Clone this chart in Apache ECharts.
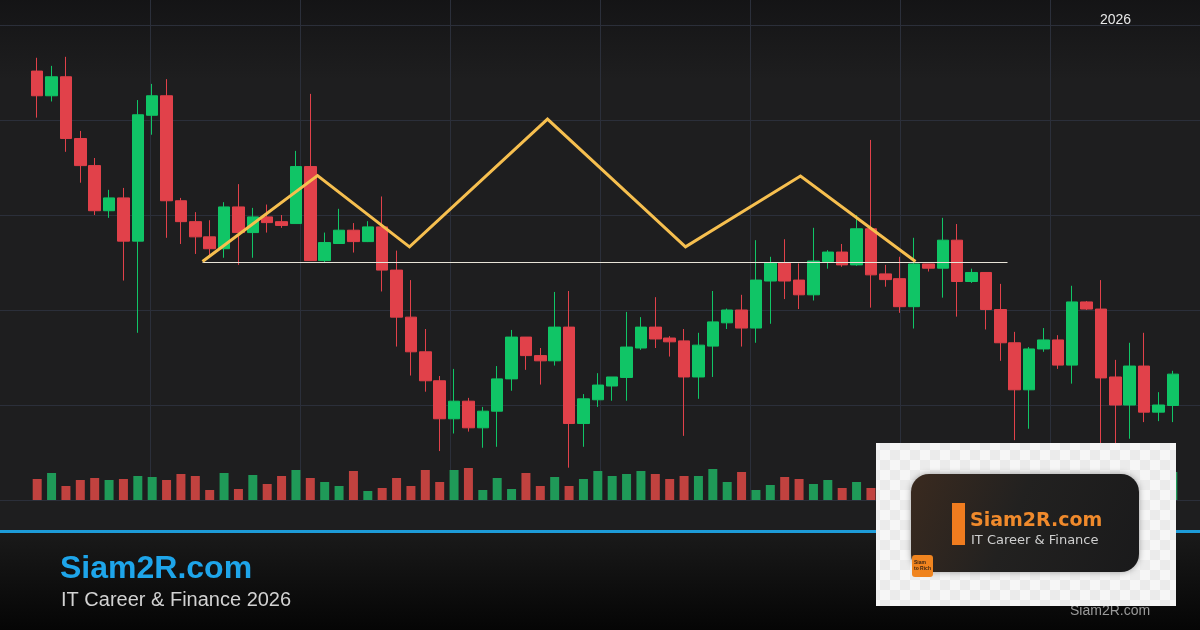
<!DOCTYPE html>
<html>
<head>
<meta charset="utf-8">
<script src="https://cdn.jsdelivr.net/npm/echarts@6/dist/echarts.min.js"></script>
<style>
html,body{margin:0;padding:0;background:#1e1e1f;}
#c{width:1200px;height:630px;}
</style>
</head>
<body>
<div id="c"></div>
<script>
// ---- data ----
const opens  = [90.3,85.1,89.1,76.1,70.4,60.9,63.6,54.5,81.0,85.1, 63.0,58.6,55.4,52.9,61.7,56.3,59.6,58.6,58.2,70.2,
                50.4,54.0,56.8,54.4,57.5,48.4,38.5,31.2,25.1,17.1, 20.8,15.2,18.7,25.5,34.3,30.4,29.3,36.4,16.1,21.1,
                24.0,25.8,32.0,36.4,34.1,33.5,25.9,32.4,37.3,40.0, 36.2,46.1,50.0,46.3,43.2,50.2,52.2,49.5,57.1,47.6,
                46.6,40.7,49.7,48.8,54.7,46.0,47.9,40.1,33.1,23.2, 31.8,33.7,28.4,41.7,40.2,25.9,20.0,28.2,18.5,19.9];
const closes = [85.1,89.1,76.1,70.4,60.9,63.6,54.5,81.1,85.1,63.0, 58.6,55.4,52.9,61.7,56.3,59.6,58.4,57.8,70.2,50.4,
                54.2,56.8,54.4,57.5,48.4,38.5,31.2,25.1,17.1,20.8, 15.2,18.7,25.5,34.3,30.4,29.3,36.4,16.1,21.3,24.2,
                25.9,32.2,36.4,33.9,33.3,25.9,32.6,37.5,40.0,36.2, 46.3,50.0,46.1,43.2,50.3,52.2,49.5,57.1,47.4,46.4,
                40.7,49.7,48.8,54.7,46.0,47.9,40.1,33.1,23.2,31.8, 33.7,28.4,41.7,40.2,25.7,20.0,28.2,18.5,20.0,26.5];
const lows   = [80.5,83.9,73.3,66.8,60.0,59.4,46.2,35.2,76.9,55.2, 53.9,51.8,51.4,51.0,49.5,51.0,56.3,57.3,58.2,50.4,
                50.1,53.9,52.1,54.3,43.9,32.3,26.2,22.8,10.3,14.0, 14.4,11.0,11.2,23.0,27.4,24.3,28.3,6.8,11.2,19.6,
                20.9,20.9,31.6,32.0,30.2,13.5,21.3,25.9,36.0,32.3, 33.1,37.1,42.3,40.2,42.0,48.7,49.1,49.3,40.5,44.9,
                39.4,36.1,48.1,42.6,38.6,45.7,35.9,29.3,12.6,15.0, 31.2,27.6,24.5,40.0,9.0,10.0,12.9,16.4,16.6,16.4];
const highs  = [93.1,91.4,93.3,77.7,72.0,65.3,65.7,84.2,87.6,88.6, 63.6,60.6,58.9,62.7,66.5,61.5,62.2,60.0,73.5,85.5,
                56.3,61.3,58.3,58.7,63.9,52.5,46.3,36.0,26.1,27.6, 21.5,19.6,28.2,35.8,34.3,32.0,43.8,44.0,22.3,26.7,
                25.9,39.6,38.5,42.7,34.5,36.0,35.2,44.0,40.3,43.2, 54.7,51.2,54.9,49.8,57.3,52.6,53.9,60.0,75.8,49.5,
                51.2,55.2,49.7,59.4,58.1,48.7,47.9,45.5,35.4,32.2, 36.2,34.7,45.1,41.9,46.3,29.5,33.1,35.2,22.7,27.2];
const volumes = [21,27,14,20,22,20,21,24,23,20, 26,24,10,27,11,25,16,24,30,22,
                 18,14,29,9,12,22,14,30,18,30, 32,10,22,11,27,14,23,14,21,29,
                 24,26,29,26,21,24,24,31,18,28, 10,15,23,21,16,20,12,18,12,20,
                 24,18,12,26,22,14,20,24,30,26, 16,18,28,12,30,26,22,24,16,28];
// pattern drawing: [candle index, price]
const zigzag   = [[11.5,50.2],[19.5,68.3],[25.9,53.3],[35.5,80.2],[45.1,53.3],[53.1,68.2],[61.1,50.2]];
const neckline = [[11.5,50.0],[67.5,50.0]];
const categories = opens.map((_, i) => 'D' + (i + 1));

// ---- styles ----
const UP = '#10c566', DOWN = '#e1414a';
const VOL_UP = '#1f9a58', VOL_DOWN = '#c1423f';

const ohlc = opens.map((o, i) => [o, closes[i], lows[i], highs[i]]);
const volData = volumes.map((v, i) => ({
  value: v,
  itemStyle: { color: closes[i] >= opens[i] ? VOL_UP : VOL_DOWN }
}));

// checkerboard pattern for logo card
const pc = document.createElement('canvas');
pc.width = 20; pc.height = 20;
const pctx = pc.getContext('2d');
pctx.fillStyle = '#f6f6f6'; pctx.fillRect(0,0,20,20);
pctx.fillStyle = '#ebebeb'; pctx.fillRect(0,0,10,10); pctx.fillRect(10,10,10,10);

const gridLine = { show: true, lineStyle: { color: '#2b2f3a', width: 1 } };

const chart = echarts.init(document.getElementById('c'));
chart.setOption({
  animation: false,
  backgroundColor: '#1e1e1f',
  grid: [
    { left: 0, right: 0, top: 0, height: 500 },
    { left: 30, right: 20, top: 25, height: 475 }
  ],
  xAxis: [
    { type: 'value', gridIndex: 0, min: 0, max: 1200, interval: 150,
      axisLine: { show: false }, axisTick: { show: false }, axisLabel: { show: false },
      splitLine: Object.assign({ showMinLine: false, showMaxLine: false }, gridLine) },
    { type: 'category', gridIndex: 1, data: categories, boundaryGap: true, show: false },
    { type: 'value', gridIndex: 1, min: -0.5, max: 79.5, show: false, splitLine: { show: false } }
  ],
  yAxis: [
    { type: 'value', gridIndex: 0, min: 0, max: 500, interval: 95,
      axisLine: { show: false }, axisTick: { show: false }, axisLabel: { show: false },
      splitLine: Object.assign({ showMinLine: true, showMaxLine: false }, gridLine) },
    { type: 'value', gridIndex: 1, min: 0, max: 100, show: false, splitLine: { show: false } },
    { type: 'value', gridIndex: 1, min: 0, max: 475, show: false, splitLine: { show: false } }
  ],
  series: [
    { type: 'bar', xAxisIndex: 1, yAxisIndex: 2, data: volData, barWidth: 9, z: 2 },
    { type: 'candlestick', xAxisIndex: 1, yAxisIndex: 1, data: ohlc, barWidth: 12, z: 3,
      itemStyle: { color: UP, color0: DOWN, borderColor: UP, borderColor0: DOWN, borderWidth: 1 } },
    { type: 'line', xAxisIndex: 2, yAxisIndex: 1, data: neckline, symbol: 'none', z: 4,
      lineStyle: { color: '#e8e4d8', width: 1.2 } },
    { type: 'line', xAxisIndex: 2, yAxisIndex: 1, data: zigzag, symbol: 'none', z: 5,
      lineStyle: { color: '#f6bf4f', width: 3, join: 'miter' } }
  ],
  graphic: [
    { type: 'rect', z: -10, silent: true, shape: { x: 0, y: 0, width: 1200, height: 80 },
      style: { fill: new echarts.graphic.LinearGradient(0,0,0,1,[{offset:0,color:'rgba(12,12,14,0.55)'},{offset:1,color:'rgba(12,12,14,0)'}]) } },
    { type: 'rect', z: -10, silent: true, shape: { x: 0, y: 532, width: 1200, height: 98 },
      style: { fill: new echarts.graphic.LinearGradient(0,0,0,1,[{offset:0,color:'#1a1a1a'},{offset:1,color:'#050505'}]) } },
    { type: 'rect', z: 10, silent: true, shape: { x: 0, y: 530, width: 1200, height: 3 }, style: { fill: '#1d9bd8' } },
    { type: 'text', z: 10, x: 60, y: 569, style: { text: 'Siam2R.com', fill: '#1ea5ea',
      font: 'bold 32px "Liberation Sans", Arial, sans-serif', verticalAlign: 'middle' } },
    { type: 'text', z: 10, x: 61, y: 600, style: { text: 'IT Career & Finance 2026', fill: '#d2d2d2',
      font: '20px "Liberation Sans", Arial, sans-serif', verticalAlign: 'middle' } },
    { type: 'text', z: 10, x: 1100, y: 20, style: { text: '2026', fill: '#e8e8e8',
      font: '14px "Liberation Sans", Arial, sans-serif', verticalAlign: 'middle' } },
    { type: 'text', z: 10, x: 1070, y: 611, style: { text: 'Siam2R.com', fill: '#9a9a9a',
      font: '14px "Liberation Sans", Arial, sans-serif', verticalAlign: 'middle' } },
    { type: 'rect', z: 20, silent: true, shape: { x: 876, y: 443, width: 300, height: 163 },
      style: { fill: { image: pc, repeat: 'repeat' } } },
    { type: 'rect', z: 21, silent: true, shape: { x: 911, y: 474, width: 228, height: 98, r: 18 },
      style: { fill: new echarts.graphic.LinearGradient(0,0,1,1,[{offset:0,color:'#3a2a1f'},{offset:0.45,color:'#222120'},{offset:1,color:'#1a1a1b'}]),
        shadowBlur: 6, shadowColor: 'rgba(0,0,0,0.35)' } },
    { type: 'rect', z: 22, silent: true, shape: { x: 952, y: 503, width: 13, height: 42 }, style: { fill: '#f07c1f' } },
    { type: 'text', z: 22, x: 970, y: 521, style: { text: 'Siam2R.com', fill: '#f08a2c',
      font: 'bold 19px "DejaVu Sans", sans-serif', verticalAlign: 'middle' } },
    { type: 'text', z: 22, x: 971, y: 541, style: { text: 'IT Career & Finance', fill: '#cfcfcf',
      font: '13px "DejaVu Sans", sans-serif', verticalAlign: 'middle' } },
    { type: 'rect', z: 23, silent: true, shape: { x: 912, y: 555, width: 21, height: 22, r: 3 }, style: { fill: '#f0841f' } },
    { type: 'text', z: 24, x: 914, y: 563, style: { text: 'Siam', fill: '#3b2412',
      font: 'bold 5px "Liberation Sans", Arial, sans-serif', verticalAlign: 'middle' } },
    { type: 'text', z: 24, x: 914, y: 569, style: { text: 'to Rich', fill: '#3b2412',
      font: 'bold 5px "Liberation Sans", Arial, sans-serif', verticalAlign: 'middle' } }
  ]
});
</script>
</body>
</html>
